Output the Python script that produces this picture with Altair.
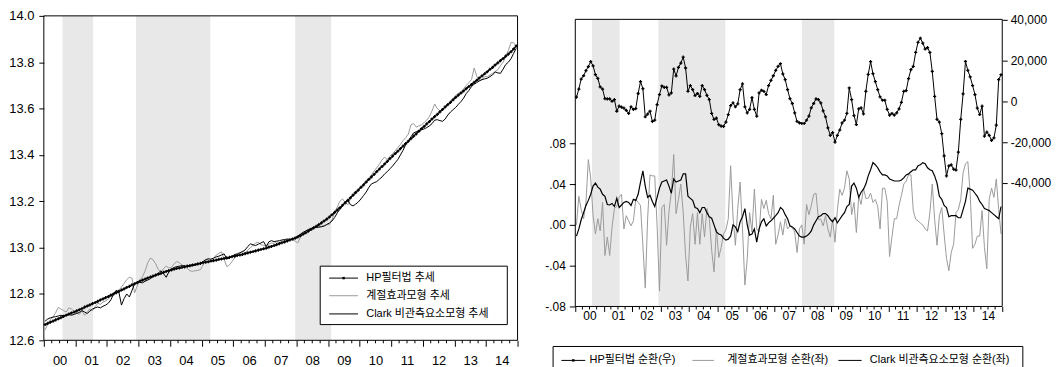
import altair as alt
import pandas as pd

YEARS = list(range(2000, 2015))
BAND_START = [2000.59, 2002.92, 2007.96]
BAND_END = [2001.56, 2005.27, 2009.10]

# ---- left panel: trend series (log level), monthly 2000-01 .. 2014-12
HP_TREND = [
    12.668, 12.673, 12.678, 12.683, 12.688, 12.693, 12.698, 12.703, 12.708, 12.713, 12.718, 12.722,
    12.727, 12.732, 12.737, 12.743, 12.748, 12.753, 12.758, 12.763, 12.768, 12.774, 12.779, 12.784,
    12.789, 12.795, 12.800, 12.806, 12.811, 12.817, 12.822, 12.828, 12.833, 12.839, 12.844, 12.849,
    12.855, 12.860, 12.864, 12.869, 12.873, 12.877, 12.881, 12.885, 12.889, 12.893, 12.897, 12.901,
    12.904, 12.907, 12.910, 12.912, 12.915, 12.917, 12.920, 12.922, 12.925, 12.927, 12.930, 12.932,
    12.935, 12.937, 12.939, 12.942, 12.944, 12.946, 12.949, 12.951, 12.953, 12.956, 12.958, 12.961,
    12.963, 12.966, 12.968, 12.971, 12.974, 12.977, 12.980, 12.983, 12.986, 12.989, 12.992, 12.995,
    12.998, 13.002, 13.005, 13.009, 13.013, 13.017, 13.021, 13.025, 13.029, 13.033, 13.037, 13.041,
    13.046, 13.052, 13.058, 13.064, 13.071, 13.078, 13.085, 13.092, 13.099, 13.107, 13.115, 13.123,
    13.132, 13.142, 13.152, 13.162, 13.172, 13.183, 13.193, 13.204, 13.215, 13.226, 13.237, 13.248,
    13.260, 13.271, 13.283, 13.294, 13.305, 13.316, 13.328, 13.339, 13.350, 13.361, 13.372, 13.384,
    13.395, 13.406, 13.416, 13.427, 13.438, 13.449, 13.459, 13.470, 13.481, 13.491, 13.502, 13.513,
    13.523, 13.534, 13.544, 13.555, 13.565, 13.575, 13.586, 13.596, 13.607, 13.617, 13.627, 13.638,
    13.648, 13.658, 13.667, 13.676, 13.686, 13.695, 13.704, 13.713, 13.722, 13.732, 13.741, 13.750,
    13.759, 13.769, 13.778, 13.788, 13.797, 13.807, 13.816, 13.826, 13.835, 13.845, 13.857, 13.870,
]
SEAS_TREND = [
    12.645, 12.670, 12.690, 12.700, 12.720, 12.742, 12.735, 12.728, 12.722, 12.740, 12.735, 12.725,
    12.718, 12.712, 12.728, 12.708, 12.722, 12.735, 12.728, 12.745, 12.760, 12.755, 12.765, 12.770,
    12.778, 12.790, 12.805, 12.800, 12.815, 12.830, 12.845, 12.862, 12.872, 12.868, 12.805, 12.835,
    12.860, 12.875, 12.900, 12.935, 12.955, 12.948, 12.930, 12.905, 12.895, 12.910, 12.920, 12.912,
    12.915, 12.930, 12.940, 12.935, 12.925, 12.920, 12.910, 12.900, 12.898, 12.900, 12.902, 12.905,
    12.925, 12.945, 12.948, 12.942, 12.952, 12.968, 12.975, 12.982, 12.950, 12.918, 12.925, 12.940,
    12.955, 12.965, 12.975, 12.985, 12.978, 12.990, 13.000, 13.010, 13.020, 13.023, 13.012, 13.010,
    13.005, 13.015, 13.020, 13.018, 13.025, 13.022, 13.028, 13.030, 13.025, 13.035, 13.032, 13.028,
    13.020, 13.045, 13.060, 13.070, 13.078, 13.085, 13.088, 13.090, 13.092, 13.092, 13.095, 13.098,
    13.100, 13.120, 13.150, 13.175, 13.200, 13.210, 13.195, 13.185, 13.210, 13.235, 13.245, 13.250,
    13.265, 13.275, 13.290, 13.300, 13.315, 13.330, 13.345, 13.360, 13.378, 13.390, 13.380, 13.395,
    13.405, 13.418, 13.432, 13.445, 13.462, 13.475, 13.490, 13.530, 13.535, 13.520, 13.525, 13.530,
    13.540, 13.550, 13.565, 13.590, 13.620, 13.600, 13.590, 13.598, 13.605, 13.615, 13.630, 13.645,
    13.655, 13.665, 13.672, 13.685, 13.700, 13.712, 13.725, 13.775, 13.740, 13.718, 13.725, 13.738,
    13.737, 13.745, 13.752, 13.760, 13.768, 13.785, 13.800, 13.824, 13.850, 13.885, 13.884, 13.868,
]
CLARK_TREND = [
    12.683, 12.692, 12.697, 12.700, 12.702, 12.705, 12.708, 12.706, 12.710, 12.712, 12.708, 12.712,
    12.716, 12.720, 12.728, 12.722, 12.716, 12.726, 12.735, 12.740, 12.744, 12.740, 12.747, 12.752,
    12.760, 12.775, 12.800, 12.816, 12.809, 12.752, 12.780, 12.800, 12.787, 12.815, 12.844, 12.852,
    12.850, 12.848, 12.855, 12.860, 12.866, 12.875, 12.882, 12.890, 12.900, 12.887, 12.872, 12.895,
    12.908, 12.914, 12.918, 12.920, 12.922, 12.921, 12.918, 12.920, 12.922, 12.925, 12.928, 12.932,
    12.940, 12.948, 12.952, 12.950, 12.955, 12.960, 12.963, 12.968, 12.973, 12.952, 12.955, 12.962,
    12.970, 12.973, 12.978, 12.983, 12.990, 13.005, 13.016, 13.012, 13.009, 13.015, 13.020, 13.026,
    13.005, 13.025, 13.030, 13.026, 13.028, 13.030, 13.033, 13.035, 13.037, 13.036, 13.038, 13.042,
    13.050, 13.058, 13.066, 13.072, 13.078, 13.082, 13.085, 13.087, 13.088, 13.090, 13.093, 13.100,
    13.106, 13.115, 13.130, 13.150, 13.165, 13.180, 13.198, 13.205, 13.185, 13.180, 13.188, 13.197,
    13.210, 13.225, 13.240, 13.260, 13.275, 13.280, 13.285, 13.295, 13.305, 13.318, 13.328, 13.340,
    13.352, 13.366, 13.380, 13.400, 13.420, 13.445, 13.460, 13.478, 13.495, 13.500, 13.505, 13.509,
    13.512, 13.518, 13.525, 13.535, 13.550, 13.552, 13.548, 13.545, 13.555, 13.572, 13.585, 13.595,
    13.605, 13.618, 13.630, 13.645, 13.665, 13.678, 13.695, 13.705, 13.712, 13.720, 13.725, 13.728,
    13.731, 13.738, 13.745, 13.758, 13.754, 13.752, 13.770, 13.790, 13.800, 13.815, 13.838, 13.860,
]

# ---- right panel: cycle series, monthly 2000-01 .. 2014-12
HP_CYCLE = [
    2000, 6000, 10900, 12500, 15000, 17000, 19400, 17400, 13000, 11200, 7000, 6000,
    1300, 1200, 1200, 0, 800, -4900, -2400, -2900, -3400, -4500, -6000, -2700,
    -4000, -3600, 3800, 9600, 6200, -7600, -6300, -4900, -9900, -9300, -1600, 3300,
    7500, 6800, 6800, 3100, 4100, 15800, 12400, 16600, 18700, 21600, 16300, 4900,
    7700, 5700, 2800, 3800, 2400, 7700, 5700, 2900, 800, -6000, -8900, -8300,
    -11500, -12200, -12300, -10200, -6500, -2100, -800, -2700, -1300, 5700, 8500, -2700,
    -5700, -4000, 1800, -4000, -7300, 4100, 5400, 4900, 3300, 7700, 10200, 12500,
    15100, 17100, 18400, 13400, 10600, 5700, 1300, -1100, -5700, -9900, -10600, -10900,
    -10900, -9300, -7300, -3200, -1100, 1200, 800, -800, -4700, -7600, -13000, -16700,
    -15400, -20000, -16700, -14100, -10600, -9300, -6000, 6500, 800, -7000, -11400, -3700,
    -3200, -6200, 4900, 13200, 19400, 13500, 9600, 5700, 2100, 500, 500, -4000,
    -6800, -6000, -6800, -5700, -3700, -500, 4900, 5200, 11100, 15500, 17100, 23900,
    28900, 30900, 28500, 25600, 26300, 23900, 14600, 2400, -8900, -10200, -15900, -26800,
    -36600, -31700, -31200, -33300, -33700, -24900, -8900, 3600, 19500, 15100, 11900, 7700,
    3300, -3400, -6500, -2400, -17100, -15100, -16700, -19200, -18000, -11700, 10600, 13000,
]
SEAS_CYCLE = [
    0.000, 0.028, 0.015, 0.006, 0.022, 0.064, 0.046, 0.009, -0.009, 0.006, -0.006, 0.022,
    -0.030, -0.012, -0.030, -0.002, 0.016, 0.018, 0.027, 0.030, -0.004, 0.009, 0.004, -0.001,
    0.004, 0.025, 0.022, 0.019, -0.020, -0.062, 0.006, 0.049, 0.048, 0.048, -0.001, -0.065,
    0.017, 0.020, -0.020, 0.013, 0.032, 0.069, 0.011, 0.025, 0.040, 0.012, -0.030, -0.055,
    -0.002, 0.011, -0.019, 0.012, -0.019, 0.011, -0.012, 0.016, 0.006, -0.025, -0.046, -0.004,
    -0.032, -0.022, -0.009, -0.005, 0.006, 0.058, 0.008, -0.020, 0.016, 0.042, -0.004, -0.059,
    -0.033, 0.012, -0.007, 0.035, -0.004, -0.007, 0.025, 0.016, 0.024, 0.011, 0.006, 0.029,
    -0.019, -0.010, 0.003, -0.010, 0.006, -0.004, -0.001, -0.003, -0.007, -0.027, -0.004, 0.000,
    -0.019, 0.020, 0.010, 0.019, 0.030, 0.031, 0.0055, 0.0055, -0.001, 0.009, -0.004, -0.012,
    0.0055, -0.017, 0.015, 0.035, 0.029, 0.036, 0.053, 0.045, 0.010, 0.022, -0.0075, 0.028,
    0.020, 0.036, 0.026, 0.026, 0.031, 0.022, 0.025, 0.018, -0.004, 0.036, 0.036, 0.023,
    -0.031, -0.012, 0.006, 0.006, 0.019, 0.029, 0.040, 0.043, 0.049, 0.049, 0.014, 0.0055,
    0.004, 0.0016, 0.000, -0.004, -0.006, 0.012, 0.040, 0.0055, -0.020, 0.009, 0.017, -0.009,
    -0.033, -0.045, -0.027, -0.019, 0.012, 0.015, 0.025, 0.051, 0.060, 0.062, 0.030, -0.023,
    -0.019, -0.011, -0.011, 0.014, -0.022, -0.043, 0.025, 0.036, 0.027, 0.045, 0.015, -0.009,
]
CLARK_CYCLE = [
    -0.011, -0.004, 0.005, 0.012, 0.019, 0.024, 0.030, 0.038, 0.041, 0.037, 0.035, 0.030,
    0.028, 0.020, 0.0195, 0.021, 0.018, 0.026, 0.017, 0.0195, 0.022, 0.023, 0.022, 0.019,
    0.025, 0.024, 0.030, 0.042, 0.053, 0.038, 0.027, 0.029, 0.023, 0.018, 0.027, 0.036,
    0.042, 0.043, 0.044, 0.038, 0.031, 0.045, 0.042, 0.043, 0.044, 0.050, 0.050, 0.028,
    0.026, 0.024, 0.017, 0.016, 0.012, 0.017, 0.017, 0.012, 0.008, 0.0065, 0.000, -0.007,
    -0.009, -0.010, -0.013, -0.015, -0.014, -0.011, 0.000, -0.002, -0.0065, 0.003, 0.008, 0.016,
    0.000, -0.010, -0.009, -0.004, -0.017, -0.004, 0.003, 0.006, -0.001, 0.002, 0.004, 0.0065,
    0.009, 0.012, 0.017, 0.015, 0.010, 0.006, -0.001, -0.002, -0.004, -0.0075, -0.011, -0.012,
    -0.012, -0.011, -0.009, -0.006, 0.000, 0.004, 0.008, 0.009, 0.011, 0.011, 0.009, 0.0055,
    0.003, 0.007, 0.002, 0.0055, 0.009, 0.012, 0.018, 0.020, 0.038, 0.041, 0.036, 0.027,
    0.032, 0.035, 0.040, 0.048, 0.054, 0.061, 0.059, 0.056, 0.052, 0.049, 0.049, 0.048,
    0.045, 0.044, 0.043, 0.043, 0.043, 0.044, 0.046, 0.049, 0.050, 0.052, 0.054, 0.054,
    0.058, 0.059, 0.061, 0.060, 0.056, 0.054, 0.053, 0.048, 0.041, 0.028, 0.025, 0.019,
    0.017, 0.008, 0.009, 0.009, 0.009, 0.007, 0.007, 0.015, 0.023, 0.036, 0.035, 0.034,
    0.031, 0.028, 0.023, 0.020, 0.016, 0.015, 0.014, 0.012, 0.010, 0.008, 0.006, 0.018,
]

LEFT_LEGEND = ["HP필터법 추세", "계절효과모형 추세", "Clark 비관측요소모형 추세"]
RIGHT_LEGEND = ["HP필터법 순환(우)", "계절효과모형 순환(좌)", "Clark 비관측요소모형 순환(좌)"]
LEFT_TICKS = [12.6, 12.8, 13.0, 13.2, 13.4, 13.6, 13.8, 14.0]
CYCLE_TICKS = [-0.08, -0.04, 0.0, 0.04, 0.08]
HP_CYCLE_TICKS = [-40000, -20000, 0, 20000, 40000]

FONT = "Liberation Sans, Arial, Noto Sans CJK KR, sans-serif"
GRAY = "#9a9a9a"
SHADE = "#e8e8e8"

months = [y + (m + 0.5) / 12 for y in YEARS for m in range(12)]
trend = pd.DataFrame({"t": months, "hp": HP_TREND, "seas": SEAS_TREND, "clark": CLARK_TREND})
cycle = pd.DataFrame({"t": months, "hp": HP_CYCLE, "seas": SEAS_CYCLE, "clark": CLARK_CYCLE})
bands = pd.DataFrame({"s": BAND_START, "e": BAND_END})
minor = pd.DataFrame({"t": [y + q / 4 for y in YEARS for q in (1, 2, 3)]})
one = alt.Data(values=[{"k": 0}])

YEAR_EXPR = "datum.value < 2015 ? substring(toString(datum.value), 2, 4) : ''"


def hline(x1, x2, y, color="black", width=1.0):
    return alt.Chart(one).mark_rule(color=color, strokeWidth=width).encode(
        x=alt.value(x1), x2=alt.value(x2), y=alt.value(y))


def label(x, y, text, size):
    return alt.Chart(one).mark_text(text=text, align="left", baseline="middle",
                                    fontSize=size, font=FONT, color="black").encode(
        x=alt.value(x), y=alt.value(y))


def box(x1, x2, y1, y2, fill="white"):
    return alt.Chart(one).mark_rect(fill=fill, stroke="black", strokeWidth=1).encode(
        x=alt.value(x1), x2=alt.value(x2), y=alt.value(y1), y2=alt.value(y2))


def dot(x, y):
    return alt.Chart(one).mark_point(shape="square", filled=True, size=6, color="black",
                                     opacity=1).encode(x=alt.value(x), y=alt.value(y))


# ================= left panel =================
W1, H1 = 476, 326
xs1 = alt.Scale(domain=[2000, 2015], nice=False, zero=False)
ax1 = alt.Axis(values=YEARS + [2015], tickSize=6, labelOffset=W1 / 30, labelExpr=YEAR_EXPR,
               labelPadding=8, labelFontSize=13, grid=False, title=None, labelFlush=False,
               labelOverlap=False, domain=False)
ys1 = alt.Scale(domain=[12.6, 14.0], nice=False, zero=False)
ay1 = alt.Axis(values=LEFT_TICKS, format=".1f", tickSize=5, labelPadding=5, labelFontSize=13,
               grid=False, title=None, domain=False)

l_bands = alt.Chart(bands).mark_rect(color=SHADE).encode(
    x=alt.X("s:Q", scale=xs1, axis=ax1), x2="e:Q", y=alt.value(0), y2=alt.value(H1))
l_minor = alt.Chart(minor).mark_rule(color="black").encode(
    x=alt.X("t:Q", scale=xs1, axis=ax1), y=alt.value(H1), y2=alt.value(H1 + 3))
l_seas = alt.Chart(trend).mark_line(color=GRAY, strokeWidth=1).encode(
    x=alt.X("t:Q", scale=xs1, axis=ax1), y=alt.Y("seas:Q", scale=ys1, axis=ay1))
l_clark = alt.Chart(trend).mark_line(color="black", strokeWidth=1).encode(
    x=alt.X("t:Q", scale=xs1, axis=ax1), y=alt.Y("clark:Q", scale=ys1, axis=ay1))
l_hp = alt.Chart(trend).mark_line(color="black", strokeWidth=1.2).encode(
    x=alt.X("t:Q", scale=xs1, axis=ax1), y=alt.Y("hp:Q", scale=ys1, axis=ay1))
l_hp_pts = alt.Chart(trend).mark_point(shape="cross", filled=True, size=10, color="black",
                                       opacity=1).encode(
    x=alt.X("t:Q", scale=xs1, axis=ax1), y=alt.Y("hp:Q", scale=ys1, axis=ay1))
l_frame = box(0, W1, 0, H1, fill="transparent")

LX1, LX2, LT = 286.7, 315.7, 324
LROWS = [263.5, 281.2, 299.5]
l_legend = [
    box(277.7, 465.7, 251.5, 310.2),
    hline(LX1, LX2, LROWS[0]), dot((LX1 + LX2) / 2, LROWS[0]), label(LT, LROWS[0], LEFT_LEGEND[0], 11),
    hline(LX1, LX2, LROWS[1], GRAY), label(LT, LROWS[1], LEFT_LEGEND[1], 11),
    hline(LX1, LX2, LROWS[2]), label(LT, LROWS[2], LEFT_LEGEND[2], 11),
]

left = alt.layer(l_bands, l_minor, l_seas, l_clark, l_hp, l_hp_pts, l_frame, *l_legend).properties(
    width=W1, height=H1)

# ================= right panel =================
W2, H2 = 429, 292
TOP2 = 3.5
xs2 = alt.Scale(domain=[2000, 2015], nice=False, zero=False)
ax2 = alt.Axis(values=YEARS + [2015], tickSize=5, labelOffset=W2 / 30, labelExpr=YEAR_EXPR,
               labelPadding=-1, labelFontSize=12, grid=False, title=None, labelFlush=False,
               labelOverlap=False, domain=False)
ys2L = alt.Scale(domain=[-0.08, 0.2049], nice=False, zero=False)
ay2L = alt.Axis(values=CYCLE_TICKS, tickSize=6, labelPadding=4, labelFontSize=12, grid=False,
                title=None, domain=False,
                labelExpr="(datum.value < 0 ? '-' : '') + replace(format(abs(datum.value), '.2f'), '0.', '.')")
ys2R = alt.Scale(domain=[-100585, 41854], nice=False, zero=False)
ay2R = alt.Axis(orient="right", values=HP_CYCLE_TICKS, tickSize=5, labelPadding=3,
                labelFontSize=12, grid=False, title=None, domain=False,
                labelExpr="(datum.value < 0 ? '-' : '') + format(abs(datum.value), ',')")

r_bands = alt.Chart(bands).mark_rect(color=SHADE).encode(
    x=alt.X("s:Q", scale=xs2, axis=ax2), x2="e:Q", y=alt.value(TOP2), y2=alt.value(H2))
r_minor = alt.Chart(minor).mark_rule(color="black").encode(
    x=alt.X("t:Q", scale=xs2, axis=ax2), y=alt.value(H2), y2=alt.value(H2 + 3))
r_seas = alt.Chart(cycle).mark_line(color=GRAY, strokeWidth=1).encode(
    x=alt.X("t:Q", scale=xs2, axis=ax2), y=alt.Y("seas:Q", scale=ys2L, axis=ay2L))
r_clark = alt.Chart(cycle).mark_line(color="black", strokeWidth=1.2).encode(
    x=alt.X("t:Q", scale=xs2, axis=ax2), y=alt.Y("clark:Q", scale=ys2L, axis=ay2L))
r_hp = alt.Chart(cycle).mark_line(color="black", strokeWidth=1).encode(
    x=alt.X("t:Q", scale=xs2, axis=ax2), y=alt.Y("hp:Q", scale=ys2R, axis=ay2R))
r_hp_pts = alt.Chart(cycle).mark_point(shape="cross", filled=True, size=10, color="black",
                                       opacity=1).encode(
    x=alt.X("t:Q", scale=xs2, axis=ax2), y=alt.Y("hp:Q", scale=ys2R, axis=ay2R))
r_frame = box(0, W2, TOP2, H2, fill="transparent")

RY = 346.2
r_legend = [
    box(-22.3, 449.7, 332.2, 368),
    hline(-14, 10, RY), dot(-2, RY), label(14.4, RY, RIGHT_LEGEND[0], 11),
    hline(117.7, 139.4, RY, GRAY), label(152.7, RY, RIGHT_LEGEND[1], 11),
    hline(264.4, 287.7, RY), label(296, RY, RIGHT_LEGEND[2], 11),
]

r_left_layer = alt.layer(r_bands, r_minor, r_seas, r_clark, r_frame, *r_legend)
r_right_layer = alt.layer(r_hp, r_hp_pts)
right = alt.layer(r_left_layer, r_right_layer).resolve_scale(y="independent").properties(
    width=W2, height=H2)

chart = alt.hconcat(left, right, spacing=58, bounds="flush").properties(
    padding={"left": 0, "top": 0, "right": 0, "bottom": 0}
).configure_view(stroke="transparent").configure_axis(
    labelFont=FONT, labelColor="black", tickColor="black", tickWidth=1
).configure_text(font=FONT)

chart.save("out.html", embed_options={"renderer": "svg", "actions": False})
